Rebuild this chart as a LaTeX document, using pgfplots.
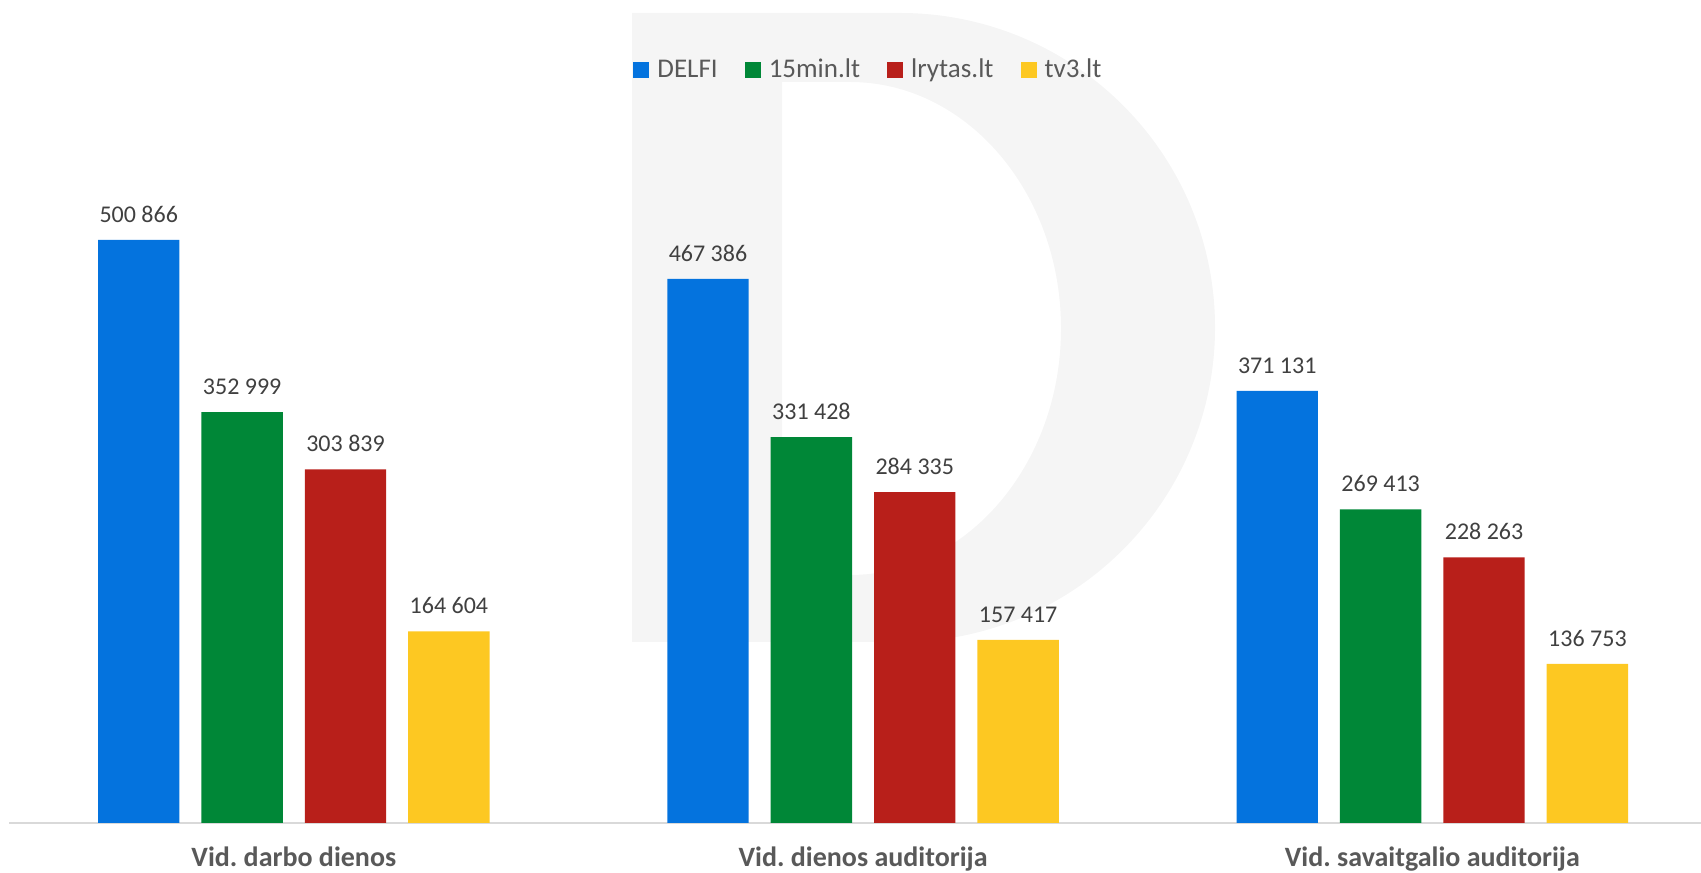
\documentclass[border=0pt]{standalone}
\usepackage{pgfplots}
\pgfplotsset{compat=1.18}
\usepackage{fontspec}
\setmainfont{Carlito}
\frenchspacing

\definecolor{cblue}{RGB}{4,115,222}
\definecolor{cgreen}{RGB}{0,135,55}
\definecolor{cred}{RGB}{184,31,26}
\definecolor{cyellow}{RGB}{253,200,34}
\definecolor{wm}{RGB}{245,245,245}
\definecolor{linec}{RGB}{217,217,217}
\definecolor{labc}{RGB}{64,64,64}
\definecolor{legc}{RGB}{89,89,89}

\begin{document}
\begin{tikzpicture}
\useasboundingbox (0pt,0pt) rectangle (850.5pt,436pt);
% watermark D in the background (pixel units, y down from the top)
\begin{scope}[shift={(0pt,436pt)}, x=0.5pt, y=-0.5pt]
  \fill[wm, even odd rule]
    (632,13) -- (900,13) arc[start angle=-90, end angle=90, x radius=315, y radius=314.5] -- (632,642) -- cycle
    (782,82) -- (850,82) arc[start angle=-90, end angle=90, x radius=211, y radius=246.5] -- (782,575) -- cycle;
\end{scope}

\begin{axis}[
  at={(4.6pt,24.5pt)}, anchor=south west,
  scale only axis,
  width=845.9pt, height=411.5pt,
  xmin=-0.5, xmax=2.472,
  ymin=0, ymax=707044,
  clip=false,
  ybar=11pt, bar width=40.7pt,
  axis y line=none,
  axis x line*=bottom,
  x axis line style={draw=linec, line width=1pt},
  xtick={0,1,2},
  xtick style={draw=none},
  xticklabels={Vid.\ darbo dienos, Vid.\ dienos auditorija, Vid.\ savaitgalio auditorija},
  xticklabel style={font=\bfseries\fontsize{14}{17}\selectfont, text=legc, anchor=base, inner sep=0pt, yshift=-17.5pt},
  nodes near coords={\pgfmathprintnumber[fixed,precision=0,1000 sep={\ },assume math mode=true]{\pgfplotspointmeta}},
  every node near coord/.append style={font=\fontsize{12}{14}\selectfont, text=labc, inner sep=0pt, anchor=south, yshift=8.5pt},
  legend columns=-1,
  legend style={at={(0.5073,0.915)}, anchor=center, draw=none, fill=none,
    font=\fontsize{13.5}{16}\selectfont, text=legc, nodes={inner sep=0pt},
    /tikz/every odd column/.append style={column sep=4pt},
    /tikz/every even column/.append style={column sep=13.5pt}},
  legend image code/.code={\fill[#1, draw=none] (0pt,-4pt) rectangle (8pt,4pt);},
]
\addplot[fill=cblue, draw=none] coordinates {(0,500866) (1,467386) (2,371131)};
\addplot[fill=cgreen, draw=none] coordinates {(0,352999) (1,331428) (2,269413)};
\addplot[fill=cred, draw=none] coordinates {(0,303839) (1,284335) (2,228263)};
\addplot[fill=cyellow, draw=none] coordinates {(0,164604) (1,157417) (2,136753)};
\legend{DELFI, 15min.lt, lrytas.lt, tv3.lt}
\end{axis}
\end{tikzpicture}
\end{document}
